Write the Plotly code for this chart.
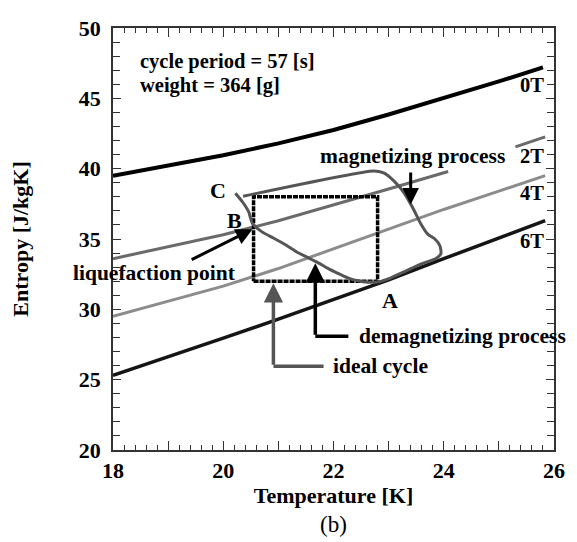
import plotly.graph_objects as go

# Isofield entropy curves
T_0T = [18, 19, 20, 21, 22, 23, 24, 25, 25.8]
S_0T = [39.5, 40.2, 40.95, 41.8, 42.75, 43.85, 45.0, 46.2, 47.2]

T_2T = [18, 19, 20, 21, 22, 23, 24.08, None, 25.3, 25.84]
S_2T = [33.6, 34.45, 35.3, 36.3, 37.4, 38.55, 39.8, None, 41.55, 42.26]

T_4T = [18, 19, 20, 21, 22, 23, 24, 25, 25.84]
S_4T = [29.5, 30.55, 31.65, 32.9, 34.3, 35.75, 37.1, 38.4, 39.5]

T_6T = [18, 19, 20, 21, 22, 23, 24, 25, 25.84]
S_6T = [25.3, 26.6, 27.95, 29.3, 30.7, 32.1, 33.6, 35.1, 36.3]

# Measured cycle (C -> B -> A -> magnetizing -> top -> back)
T_cycle = [20.22, 20.35, 20.46, 20.53, 20.71, 20.91, 21.13, 21.35, 21.53, 21.71,
           21.89, 22.07, 22.26, 22.44, 22.62, 22.82, 23.04, 23.31, 23.58, 23.86,
           23.95, 23.93, 23.84, 23.71, 23.58, 23.44, 23.26, 23.09, 22.91, 22.73, 20.36]
S_cycle = [38.25, 37.63, 36.94, 36.11, 35.49, 35.07, 34.59, 34.04, 33.69, 33.34,
           32.93, 32.58, 32.24, 32.03, 31.93, 31.96, 32.24, 32.72, 33.21, 33.62,
           33.97, 34.52, 35.0, 35.35, 36.11, 37.21, 38.39, 39.15, 39.7, 39.84, 38.04]

# Ideal cycle rectangle
T_ideal = [20.55, 22.8, 22.8, 20.55, 20.55]
S_ideal = [32.0, 32.0, 38.0, 38.0, 32.0]

# Leader lines for annotations
T_demag_leg = [22.27, 21.67]
S_demag_leg = [28.09, 28.09]
T_ideal_leg = [21.82, 20.91]
S_ideal_leg = [25.95, 25.95]

x_tickvals = [18, 19, 20, 21, 22, 23, 24, 25, 26]
x_ticktext = ["18", "", "20", "", "22", "", "24", "", "26"]

SERIF = "Liberation Serif"

fig = go.Figure()
fig.add_trace(go.Scatter(x=T_0T, y=S_0T, mode="lines", line=dict(color="#000000", width=4), name="0T"))
fig.add_trace(go.Scatter(x=T_2T, y=S_2T, mode="lines", line=dict(color="#6a6a6a", width=3), name="2T", connectgaps=False))
fig.add_trace(go.Scatter(x=T_4T, y=S_4T, mode="lines", line=dict(color="#8c8c8c", width=3), name="4T"))
fig.add_trace(go.Scatter(x=T_6T, y=S_6T, mode="lines", line=dict(color="#151515", width=3.5), name="6T"))
fig.add_trace(go.Scatter(x=T_ideal, y=S_ideal, mode="lines", line=dict(color="#000000", width=3.5, dash="5px,1px"), name="ideal"))
fig.add_trace(go.Scatter(x=T_cycle, y=S_cycle, mode="lines", line=dict(color="#555555", width=3, shape="spline", smoothing=0.6), name="cycle"))
fig.add_trace(go.Scatter(x=T_demag_leg, y=S_demag_leg, mode="lines", line=dict(color="#000000", width=3.5), name="demag"))
fig.add_trace(go.Scatter(x=T_ideal_leg, y=S_ideal_leg, mode="lines", line=dict(color="#555555", width=3.5), name="idealleg"))

def txt(x, y, s, xanchor="center", size=21.5):
    fig.add_annotation(x=x, y=y, text=s, showarrow=False, xanchor=xanchor, yanchor="middle",
                       font=dict(family=SERIF, size=size, color="black", weight="bold"))

def arrow(x, y, ax, ay, color="black", width=3):
    fig.add_annotation(x=x, y=y, ax=ax, ay=ay, xref="x", yref="y", axref="x", ayref="y",
                       text="", showarrow=True, arrowhead=2, arrowsize=1.1,
                       arrowwidth=width, arrowcolor=color)

txt(18.45, 47.65, "cycle period = 57 [s]", xanchor="left", size=20.5)
txt(18.45, 45.92, "weight = 364 [g]", xanchor="left", size=20.5)
txt(25.85, 45.92, "0T", xanchor="right", size=20.5)
txt(25.85, 40.88, "2T", xanchor="right", size=20.5)
txt(25.85, 38.25, "4T", xanchor="right", size=20.5)
txt(25.85, 34.87, "6T", xanchor="right", size=20.5)
txt(23.44, 40.88, "magnetizing process")
txt(19.91, 38.46, "C", size=22)
txt(20.2, 36.32, "B", size=22)
txt(23.02, 30.65, "A", size=22)
txt(20.26, 32.58, "liquefaction point", xanchor="right")
txt(22.42, 28.09, "demagnetizing process", xanchor="left")
txt(21.96, 25.95, "ideal cycle", xanchor="left")

arrow(23.4, 37.45, 23.4, 39.84)
arrow(20.53, 35.7, 19.4, 33.48)
arrow(21.67, 33.27, 21.67, 28.09, width=3.5)
arrow(20.91, 31.85, 20.91, 25.95, color="#555555", width=3.5)

fig.add_annotation(x=0.5, y=-0.143, xref="paper", yref="paper", text="(b)", showarrow=False,
                   xanchor="center", yanchor="top", font=dict(family=SERIF, size=23, color="black"))

axis_common = dict(showline=True, linecolor="#333333", linewidth=1.5, mirror="allticks",
                   ticks="inside", tickcolor="#333333", tickwidth=1.3, showgrid=False, zeroline=False,
                   ticklabeloverflow="allow",
                   tickfont=dict(family=SERIF, size=22, color="black", weight="bold"))

fig.update_xaxes(range=[18, 26], tickmode="array", tickvals=x_tickvals, ticktext=x_ticktext, ticklen=9,
                 minor=dict(tickmode="linear", tick0=18, dtick=0.2, ticks="inside", ticklen=5,
                            tickcolor="#333333", tickwidth=1.2, showgrid=False),
                 title=dict(text="Temperature [K]", standoff=0,
                            font=dict(family=SERIF, size=22, color="black", weight="bold")),
                 **axis_common)
fig.update_yaxes(range=[20, 50], tickmode="linear", tick0=20, dtick=5, ticklen=8,
                 minor=dict(tickmode="linear", tick0=20, dtick=1, ticks="inside", ticklen=7,
                            tickcolor="#333333", tickwidth=1.2, showgrid=False),
                 title=dict(text="Entropy [J/kgK]", standoff=44,
                            font=dict(family=SERIF, size=22, color="black", weight="bold")),
                 ticklabelstandoff=6,
                 **axis_common)

# page body has an 8px default margin, so the figure is sized to fit the 577x542 window
fig.update_layout(width=569, height=534, margin=dict(l=105, r=23, t=8, b=92),
                  paper_bgcolor="white", plot_bgcolor="white", showlegend=False)

fig.write_html("out.html")
